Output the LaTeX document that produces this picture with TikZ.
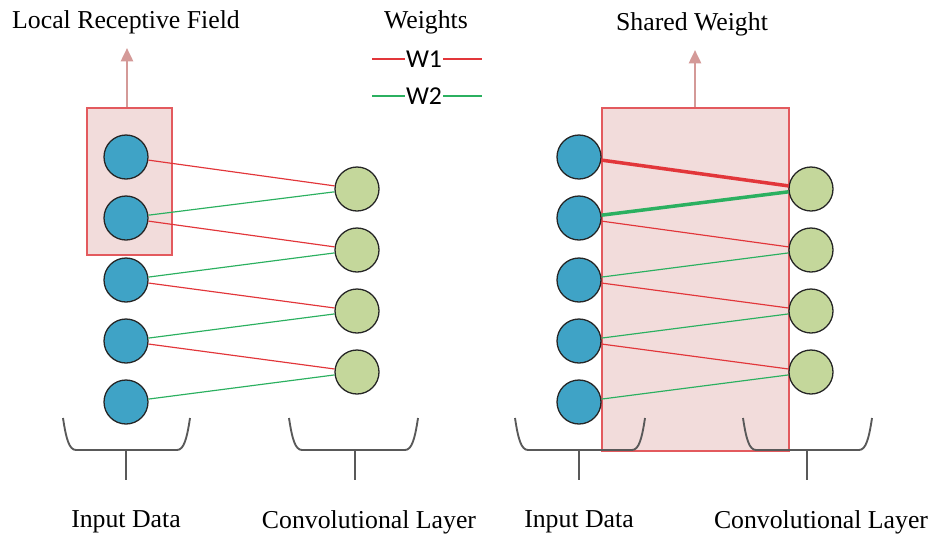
\documentclass[tikz,border=0pt]{standalone}
\usepackage{fontspec}
\setmainfont{Liberation Serif}
\newfontfamily\legendfont{Carlito}
\usetikzlibrary{positioning,arrows.meta,calc}
\definecolor{inBlue}{HTML}{3FA3C6}
\definecolor{convGreen}{HTML}{C4D79B}
\definecolor{fieldRed}{HTML}{E35A5E}
\definecolor{fieldFill}{HTML}{F2DCDB}
\definecolor{arrowRose}{HTML}{D49A98}
\definecolor{wOne}{HTML}{E2363A}
\definecolor{wTwo}{HTML}{2BB060}
\definecolor{bracketGray}{HTML}{595959}

\begin{document}
\begin{tikzpicture}[
    x=0.3mm, y=-0.3mm,
    inNode/.style={circle, draw=black!85, fill=inBlue, line width=1.1pt, minimum size=13.2mm, inner sep=0pt},
    convNode/.style={circle, draw=black!85, fill=convGreen, line width=1.1pt, minimum size=13.2mm, inner sep=0pt},
    fieldBox/.style={rectangle, draw=fieldRed, fill=fieldFill, line width=1.3pt, inner sep=0pt},
    upArrow/.style={-{Triangle[length=4mm, width=3.6mm]}, line width=2.2pt, draw=arrowRose},
    wOneLine/.style={draw=wOne, line width=1pt},
    wTwoLine/.style={draw=wTwo, line width=1pt},
    bracketLine/.style={draw=bracketGray, line width=1.6pt},
    titleText/.style={font=\fontsize{22}{26}\selectfont, inner sep=1pt},
    legendText/.style={font=\legendfont\fontsize{22}{24}\selectfont, inner sep=1pt}
]
    \useasboundingbox (0,0) rectangle (933,538);

    % Boxes
    \node[fieldBox, minimum width=25.5mm, minimum height=44.1mm, anchor=north west] (field) at (86,107) {};
    \node[fieldBox, minimum width=56.1mm, minimum height=102.9mm, anchor=north west] (shared) at (601,107) {};

    % Titles
    \node[titleText] (fieldTitle) at (126,22) {Local Receptive Field};
    \node[titleText] (sharedTitle) at (692,24) {Shared Weight};
    \node[titleText] (weightsTitle) at (426,22) {Weights};
    \draw[upArrow] (field.north -| 127,0) -- (127,48);
    \draw[upArrow] (shared.north -| 695,0) -- (695,50);

    % Legend
    \node[legendText] (w1) at (424,59) {W1};
    \node[legendText] (w2) at (424,96) {W2};
    \draw[wOneLine] (w1.west) -- (372,59);
    \draw[wOneLine] (w1.east) -- (482,59);
    \draw[wTwoLine] (w2.west) -- (372,96);
    \draw[wTwoLine] (w2.east) -- (482,96);

    % Neurons
    \foreach \i/\y in {1/157,2/218,3/280,4/341,5/402} {
        \node[inNode] (in\i) at (126,\y) {};
        \node[inNode] (rin\i) at (579,\y) {};
    }
    \foreach \i/\y in {1/189,2/250,3/311,4/372} {
        \node[convNode] (conv\i) at (357,\y) {};
        \node[convNode] (rconv\i) at (811,\y) {};
    }

    % Connections
    \foreach \i [evaluate=\i as \j using int(\i+1)] in {1,2,3,4} {
        \draw[wOneLine] (in\i) -- (conv\i);
        \draw[wTwoLine] (in\j) -- (conv\i);
    }
    \foreach \i [evaluate=\i as \j using int(\i+1)] in {2,3,4} {
        \draw[wOneLine] (rin\i) -- (rconv\i);
        \draw[wTwoLine] (rin\j) -- (rconv\i);
    }
    \draw[wOneLine, line width=3pt] (rin1) -- (rconv1);
    \draw[wTwoLine, line width=3pt] (rin2) -- (rconv1);

    % Brackets
    \foreach \a/\b/\m/\n in {63/190/126/inBr, 289/418/355/convBr, 515/645/579/rinBr, 743/872/807/rconvBr} {
        \draw[bracketLine] (\a,418) .. controls (\a+3,438) and (\a+6,450) .. (\a+13,450)
            -- (\b-13,450) .. controls (\b-6,450) and (\b-3,438) .. (\b,418);
        \coordinate (\n) at (\m,450);
        \coordinate (\n end) at (\m,480);
        \draw[bracketLine] (\n) -- (\n end);
    }

    % Labels
    \node[titleText] (inLabel) at (126,522) {Input Data};
    \node[titleText] (convLabel) at (369,522) {Convolutional Layer};
    \node[titleText] (rinLabel) at (579,522) {Input Data};
    \node[titleText] (rconvLabel) at (821,522) {Convolutional Layer};
\end{tikzpicture}
\end{document}
